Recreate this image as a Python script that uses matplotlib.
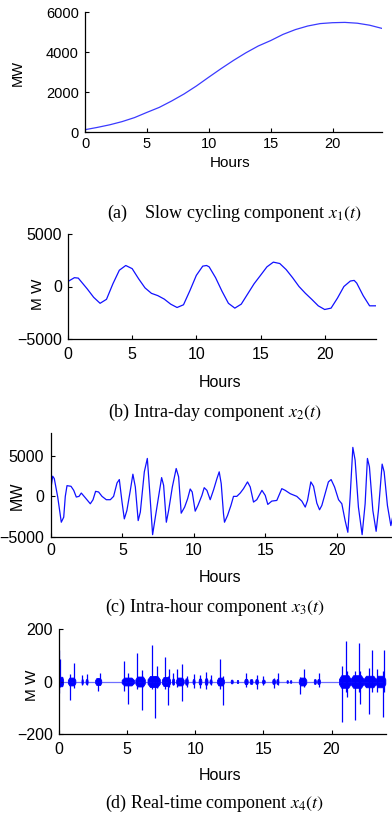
import matplotlib
matplotlib.use("Agg")
import matplotlib.pyplot as plt

plt.rcParams['font.family'] = ['Liberation Sans', 'DejaVu Sans']
plt.rcParams['mathtext.fontset'] = 'stix'

# ---------------- data ----------------
hours_a = [0, 1, 2, 3, 4, 5, 6, 7, 8, 9, 10, 11, 12, 13, 14, 15, 16, 17, 18,
           19, 20, 21, 22, 23, 24]
slow_mw = [115, 230, 360, 520, 720, 980, 1230, 1550, 1900, 2300, 2740, 3170,
           3580, 3960, 4300, 4570, 4880, 5120, 5300, 5420, 5465, 5480, 5440,
           5340, 5180]

hours_b = [0, 0.5, 0.8, 1.5, 2, 2.5, 3, 3.5, 4, 4.5, 5, 5.5, 6, 6.5, 7, 7.5, 8,
           8.5, 9, 9.5, 10, 10.5, 10.8, 11, 11.5, 12, 12.5, 13, 13.5, 14, 14.5,
           15, 15.5, 16, 16.5, 17, 17.5, 18, 18.5, 19, 19.5, 20, 20.5, 21,
           21.5, 22, 22.3, 22.5, 23, 23.5, 24]
intraday_mw = [480, 840, 800, -230, -1030, -1600, -1220, 260, 1550, 2000, 1700,
               740, -130, -650, -870, -1200, -1680, -2000, -1740, -390, 1060,
               1940, 2000, 1870, 840, -450, -1600, -2060, -1680, -710, 260,
               1060, 1870, 2320, 2190, 1610, 840, 0, -650, -1230, -1840, -2190,
               -2060, -1100, 0, 520, 580, 320, -870, -1840, -1840]

hours_c = [0, 0.12, 0.23, 0.47, 0.72, 0.89, 1.0, 1.12, 1.4, 1.59, 1.77, 1.96,
           2.12, 2.4, 2.75, 2.94, 3.12, 3.33, 3.57, 3.87, 4.15, 4.38, 4.62,
           4.78, 4.97, 5.13, 5.31, 5.55, 5.73, 5.9, 6.1, 6.25, 6.53, 6.74, 6.9,
           7.11, 7.3, 7.53, 7.74, 7.88, 8.07, 8.23, 8.49, 8.76, 8.93, 9.11,
           9.35, 9.56, 9.74, 9.88, 10.09, 10.28, 10.56, 10.72, 10.91, 11.14,
           11.38, 11.61, 11.77, 11.91, 12.07, 12.14, 12.35, 12.59, 12.77, 13.0,
           13.24, 13.47, 13.75, 13.94, 14.17, 14.4, 14.76, 14.99, 15.17, 15.45,
           15.8, 16.15, 16.39, 16.74, 17.2, 17.55, 17.79, 17.95, 18.18, 18.37,
           18.6, 18.79, 18.95, 19.18, 19.41, 19.6, 19.84, 20.12, 20.35, 20.58,
           20.77, 20.93, 21.12, 21.28, 21.51, 21.77, 21.98, 22.14, 22.28, 22.52,
           22.75, 22.91, 23.17, 23.31, 23.54, 23.78, 23.9, 24.0]
intrahour_mw = [1070, 2480, 2190, -80, -3180, -2560, 0, 1320, 1240, 740, -80,
                0, 410, -170, -910, -410, 620, 540, 0, -410, -410, 0, 1650,
                2070, -700, -2770, -1740, 740, 2730, 1160, -2980, -1940, 3020,
                4670, 740, -4710, -2560, 0, 2310, 1360, -3180, -1740, 1160,
                3430, 2400, -2070, -1320, -290, 910, 540, -1820, -1120, 120,
                1070, 740, -410, 830, 2190, 3020, 1570, -2150, -3180, -2360,
                -1120, 0, 0, 410, 950, 1780, 1160, -700, -410, 740, 120, -990,
                -580, -500, 950, 740, 330, 0, -580, -1320, -500, 1780, 1240,
                -830, -1650, -1120, 330, 1780, 2070, 1160, -410, -910, -2980,
                -4420, -80, 6030, 4460, -1320, -4710, -910, 4670, 3640, -1740,
                -4300, -1740, 3970, 3020, -1120, -3600, -2600, -3400]

# real-time component: dense bursts (start h, end h, half-amplitude MW)
burst_start = [0.0, 0.65, 1.65, 1.95, 2.65, 4.6, 5.6, 6.5, 7.55, 8.3, 8.6,
               9.25, 9.8, 10.25, 10.7, 11.05, 11.6, 12.6, 13.05, 13.6, 14.0,
               14.4, 14.9, 15.65, 15.95, 16.7, 16.95, 17.6, 18.7, 18.95, 20.55,
               21.4, 22.35, 23.25]
burst_end = [0.3, 1.2, 1.75, 2.1, 3.1, 5.5, 6.3, 7.4, 8.15, 8.45, 9.15, 9.45,
             9.95, 10.45, 10.9, 11.2, 12.1, 12.75, 13.15, 13.85, 14.2, 14.6,
             15.1, 15.85, 16.1, 16.8, 17.05, 18.15, 18.85, 19.15, 21.4, 22.35,
             23.25, 23.95]
burst_amp = [18, 15, 9, 9, 13, 15, 19, 21, 17, 11, 15, 12, 9, 11, 12, 8,
             15, 7, 6, 10, 9, 9, 7, 9, 9, 5, 5, 15, 9, 9, 24, 24, 22, 22]

spike_t = [0.0, 0.1, 0.79, 1.08, 1.7, 2.06, 2.85, 3.04, 4.76, 5.08, 5.74,
           6.06, 6.8, 7.04, 7.17, 7.78, 8.02, 8.1, 8.4, 8.69, 9.0, 9.37, 9.9,
           10.36, 10.8, 11.14, 11.78, 12.02, 13.74, 14.5, 15.0, 15.75, 16.05,
           17.7, 18.0, 19.07, 20.74, 21.03, 21.15, 21.7, 22.0, 22.12, 22.75,
           23.0, 23.35, 23.78, 23.85]
spike_top = [120, 85, 28, 69, 25, 28, 15, 33, 79, 34, 108, 43, 139, 20, 60, 92,
             20, 47, 34, 47, 66, 20, 28, 25, 38, 25, 85, 20, 33, 25, 22, 15, 33,
             18, 46, 32, 60, 155, 40, 40, 145, 40, 51, 120, 47, 40, 120]
spike_bot = [-42, -20, -71, -25, -15, -15, -36, -15, -36, -84, -30, -110, -30,
             -140, -25, -30, -89, -20, -15, -20, -76, -20, -25, -25, -30, -15,
             -30, -89, -20, -28, -15, -25, -15, -46, -20, -20, -154, -40, -59,
             -148, -40, -87, -125, -40, -40, -135, -40]

x_ticks = [0, 5, 10, 15, 20]

# ---------------- figure ----------------
W, H = 392, 814
fig = plt.figure(figsize=(W / 100, H / 100), dpi=100)

def add_axes(l, r, t, b):
    return fig.add_axes([l / W, 1 - b / H, (r - l) / W, (b - t) / H])

def style(ax, yticks, ylim, fs, pad_y, pad_x):
    ax.set_xlim(0, 24)
    ax.set_ylim(*ylim)
    ax.set_xticks(x_ticks)
    ax.set_yticks(yticks)
    for s in ('top', 'right'):
        ax.spines[s].set_visible(False)
    for s in ('left', 'bottom'):
        ax.spines[s].set_linewidth(0.9)
    ax.tick_params(axis='both', direction='in', length=3, width=0.8,
                   labelsize=fs, colors='black')
    ax.tick_params(axis='y', pad=pad_y)
    ax.tick_params(axis='x', pad=pad_x)

def labels(ax, ylab, yfs, ycoord, xfs, xcoord):
    ax.set_xlabel('Hours', fontsize=xfs)
    ax.set_ylabel(ylab, fontsize=yfs)
    ax.xaxis.set_label_coords(*xcoord)
    ax.yaxis.set_label_coords(*ycoord)
    ax.xaxis.label.set_va('center')
    ax.yaxis.label.set_va('center')

def caption(x, y, txt):
    fig.text(x / W, 1 - y / H, txt, family='Liberation Serif', fontsize=13,
             ha='center', va='center')

blue = '#1010ff'

# (a)
ax1 = add_axes(85, 382, 12, 132)
ax1.plot(hours_a, slow_mw, color='#3a3aff', lw=0.9)
style(ax1, [0, 2000, 4000, 6000], (0, 6000), 10.5, 4.5, 3.5)
labels(ax1, 'MW', 10.5, (-0.2256, 0.49), 11, (0.488, -0.258))
caption(234.5, 213, r'(a)    Slow cycling component $x_1(t)$')

# (b)
ax2 = add_axes(68, 376, 234, 339)
ax2.plot(hours_b, intraday_mw, color=blue, lw=0.9)
style(ax2, [-5000, 0, 5000], (-5000, 5000), 11.5, 4.5, 6)
labels(ax2, 'M W', 11, (-0.097, 0.43), 11.5, (0.4935, -0.41))
caption(215, 412, r'(b) Intra-day component $x_2(t)$')

# (c)
ax3 = add_axes(51, 394, 433, 537)
ax3.plot(hours_c, intrahour_mw, color=blue, lw=0.9)
style(ax3, [-5000, 0, 5000], (-5000, 7800), 11.5, 5, 4)
labels(ax3, 'MW', 11.5, (-0.099, 0.394), 11.5, (0.4927, -0.394))
caption(214.5, 607, r'(c) Intra-hour component $x_3(t)$')

# (d)
ax4 = add_axes(59, 386, 629, 734)
ax4.plot([0, 24], [0, 0], color=blue, lw=0.9, alpha=0.6)
for s, e, a in zip(burst_start, burst_end, burst_amp):
    d = (e - s) * 0.2
    xs = [s, s + d, e - d, e]
    ax4.fill_between(xs, [-0.4 * a, -a, -a, -0.4 * a],
                     [0.4 * a, a, a, 0.4 * a], color='#0000ff', lw=0.6)
ax4.vlines(spike_t, spike_bot, spike_top, color='#0000ff', lw=0.9)
style(ax4, [-200, 0, 200], (-200, 200), 11.5, 4.5, 6)
labels(ax4, 'M W', 11, (-0.0826, 0.467), 11.5, (0.492, -0.4))
caption(214.5, 803, r'(d) Real-time component $x_4(t)$')

fig.savefig('out.png', dpi=100)
